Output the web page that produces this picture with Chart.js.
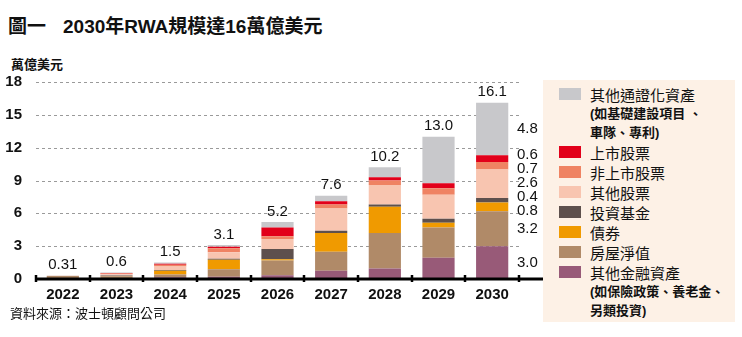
<!DOCTYPE html>
<html>
<head>
<meta charset="utf-8">
<script src="https://cdn.jsdelivr.net/npm/chart.js@4"></script>
<style>
  body { margin: 0; background: #fff; }
  #wrap { position: relative; width: 742px; height: 337px; font-family: "Liberation Sans", "Noto Sans CJK TC", sans-serif; color: #111; }
  .abs { position: absolute; white-space: nowrap; }
  #legend { position: absolute; left: 543px; top: 80px; width: 192px; height: 242px; background: #fdf1e6; padding-top: 4px; box-sizing: border-box; }
  .item { display: flex; align-items: center; height: 20px; font-size: 15px; }
  .item span.box { width: 22px; height: 12px; margin-left: 16px; margin-right: 9px; flex: none; }
  .sub { height: 19px; line-height: 19px; font-size: 13px; font-weight: bold; padding-left: 47px; }
</style>
</head>
<body>
<div id="wrap">
  <div class="abs" style="left:8px;top:11px;font-weight:bold;font-size:19px;">圖一<span style="margin-left:17px">2030年RWA規模達16萬億美元</span></div>
  <div class="abs" style="left:11px;top:54px;font-weight:bold;font-size:13px;">萬億美元</div>
  <canvas id="myChart" width="742" height="337" class="abs" style="left:0;top:0"></canvas>
  <div id="legend"></div>
  <div class="abs" style="left:10px;top:303px;font-size:13px;">資料來源：波士頓顧問公司</div>
</div>
<script>
const years = ["2022", "2023", "2024", "2025", "2026", "2027", "2028", "2029", "2030"];
const totals = [0.31, 0.6, 1.5, 3.1, 5.2, 7.6, 10.2, 13.0, 16.1];
const yTicks = [0, 3, 6, 9, 12, 15, 18];

// stacked from bottom to top
const otherFinancial = [0.02, 0.05, 0.15, 0.2, 0.35, 0.75, 0.95, 1.95, 3.0];
const housing = [0.26, 0.2, 0.25, 0.7, 1.35, 1.75, 3.25, 2.75, 3.2];
const bonds = [0, 0.03, 0.35, 0.85, 0.1, 1.7, 2.4, 0.45, 0.8];
const funds = [0, 0.05, 0.08, 0.1, 0.95, 0.2, 0.2, 0.35, 0.4];
const otherEquity = [0.02, 0.1, 0.32, 0.6, 0.9, 2.05, 1.8, 2.2, 2.6];
const unlisted = [0, 0.07, 0.15, 0.35, 0.25, 0.35, 0.4, 0.6, 0.7];
const listed = [0, 0.05, 0.1, 0.15, 0.8, 0.3, 0.3, 0.45, 0.6];
const otherTokenized = [0.01, 0.05, 0.1, 0.15, 0.5, 0.5, 0.9, 4.25, 4.8];

const series = [
  { label: "其他金融資產", sub: ["(如保險政策、養老金、", "另類投資)"], data: otherFinancial, color: "#985a78" },
  { label: "房屋淨值", data: housing, color: "#b08a68" },
  { label: "債券", data: bonds, color: "#f09a00" },
  { label: "投資基金", data: funds, color: "#5e504d" },
  { label: "其他股票", data: otherEquity, color: "#f8c5b0" },
  { label: "非上市股票", data: unlisted, color: "#ef8363" },
  { label: "上市股票", data: listed, color: "#e2001a" },
  { label: "其他通證化資產", sub: ["(如基礎建設項目 、", "車隊、專利)"], data: otherTokenized, color: "#c8c8cb" },
];

const FONT = '"Liberation Sans", "Noto Sans CJK TC", sans-serif';

// legend, top item first
const legend = document.getElementById("legend");
series.slice().reverse().forEach((s) => {
  legend.innerHTML += `<div class="item"><span class="box" style="background:${s.color}"></span><span>${s.label}</span></div>`;
  if (s.sub) {
    s.sub.forEach((t) => { legend.innerHTML += `<div class="sub">${t}</div>`; });
  }
});

const gridPlugin = {
  id: "dashGrid",
  beforeDatasetsDraw(chart) {
    const ctx = chart.ctx;
    const y = chart.scales.y;
    const area = chart.chartArea;
    ctx.save();
    ctx.strokeStyle = "#9a9a9a";
    ctx.lineWidth = 1;
    ctx.setLineDash([3, 3]);
    yTicks.forEach((v) => {
      if (v === 0) return;
      const py = Math.round(y.getPixelForValue(v)) + 0.5;
      ctx.beginPath();
      ctx.moveTo(area.left, py);
      ctx.lineTo(area.right, py);
      ctx.stroke();
    });
    ctx.restore();
  },
};

const labelsPlugin = {
  id: "barLabels",
  afterDatasetsDraw(chart) {
    const ctx = chart.ctx;
    const x = chart.scales.x;
    const y = chart.scales.y;
    const area = chart.chartArea;
    ctx.save();

    // baseline with category ticks
    const step = x.getPixelForValue(1) - x.getPixelForValue(0);
    ctx.strokeStyle = "#000";
    ctx.lineWidth = 3;
    ctx.beginPath();
    ctx.moveTo(area.left, area.bottom);
    ctx.lineTo(area.right + 24, area.bottom);
    ctx.stroke();
    ctx.lineWidth = 2.5;
    for (let i = 0; i <= years.length; i++) {
      const px = Math.round(x.getPixelForValue(0) - step / 2 + i * step);
      ctx.beginPath();
      ctx.moveTo(px, area.bottom - 4);
      ctx.lineTo(px, area.bottom + 3);
      ctx.stroke();
    }

    // totals on top
    ctx.fillStyle = "#111";
    ctx.font = "15px " + FONT;
    ctx.textAlign = "center";
    ctx.textBaseline = "bottom";
    totals.forEach((v, i) => {
      ctx.fillText(v < 1 && v !== 0.6 ? v.toFixed(2) : v.toFixed(1), x.getPixelForValue(i), y.getPixelForValue(v) - 3);
    });

    // segment values of the last bar, spread so they do not overlap
    const last = years.length - 1;
    let cum = 0;
    const items = series.map((s) => {
      const v = s.data[last];
      const mid = y.getPixelForValue(cum + v / 2);
      cum += v;
      return { text: v.toFixed(1), y0: mid };
    });
    items.sort((a, b) => a.y0 - b.y0);
    const gap = 14;
    let groups = items.map((it) => ({ members: [it], c: it.y0 }));
    let moved = true;
    while (moved) {
      moved = false;
      for (let i = 0; i < groups.length - 1; i++) {
        const a = groups[i], b = groups[i + 1];
        const aEnd = a.c + (a.members.length - 1) * gap / 2;
        const bStart = b.c - (b.members.length - 1) * gap / 2;
        if (bStart - aEnd < gap) {
          const members = a.members.concat(b.members);
          const c = members.reduce((t, m) => t + m.y0, 0) / members.length;
          groups.splice(i, 2, { members, c });
          moved = true;
          break;
        }
      }
    }
    ctx.font = "15px " + FONT;
    ctx.textAlign = "left";
    ctx.textBaseline = "middle";
    groups.forEach((g) => {
      const start = g.c - (g.members.length - 1) * gap / 2;
      g.members.forEach((m, k) => ctx.fillText(m.text, area.right - 2, start + k * gap));
    });
    ctx.restore();
  },
};

Chart.defaults.font.family = FONT;
Chart.defaults.color = "#111";

new Chart(document.getElementById("myChart"), {
  type: "bar",
  data: {
    labels: years,
    datasets: series.map((s) => ({
      label: s.label,
      data: s.data,
      backgroundColor: s.color,
      borderWidth: 0,
      categoryPercentage: 1,
      barPercentage: 0.6,
    })),
  },
  options: {
    responsive: false,
    animation: false,
    devicePixelRatio: 1,
    layout: { padding: { left: 0, top: 82, right: 223, bottom: 0 } },
    plugins: { legend: { display: false }, tooltip: { enabled: false } },
    scales: {
      x: {
        stacked: true,
        grid: { display: false },
        border: { display: false },
        ticks: { font: { size: 15, weight: "bold" }, color: "#111", padding: -1 },
        afterFit(scale) { scale.height = 58; },
      },
      y: {
        stacked: true,
        min: 0,
        max: 18,
        afterBuildTicks(scale) { scale.ticks = yTicks.map((v) => ({ value: v })); },
        grid: { display: false },
        border: { display: false },
        ticks: { font: { size: 15, weight: "bold" }, color: "#111", padding: 6 },
        afterFit(scale) { scale.width = 36; },
      },
    },
  },
  plugins: [gridPlugin, labelsPlugin],
});
</script>
</body>
</html>
